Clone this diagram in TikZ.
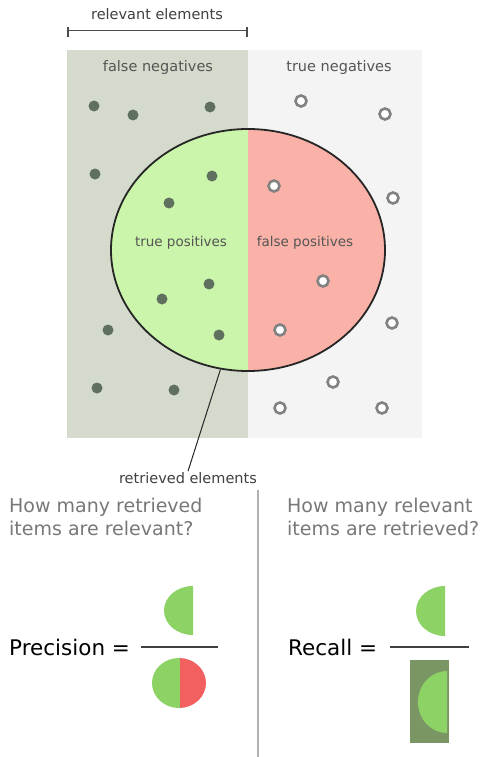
\documentclass[tikz,border=0pt]{standalone}
\usepackage{fontspec}
\setmainfont{DejaVu Sans}
\usetikzlibrary{shapes.geometric}
\definecolor{fnbg}{RGB}{212,218,204}
\definecolor{tnbg}{RGB}{244,244,244}
\definecolor{tpfill}{RGB}{202,245,170}
\definecolor{fpfill}{RGB}{250,178,168}
\definecolor{dotc}{RGB}{95,112,95}
\definecolor{ringc}{RGB}{130,130,130}
\definecolor{lblc}{RGB}{85,85,85}
\definecolor{qc}{RGB}{120,120,120}
\definecolor{bgreen}{RGB}{140,210,100}
\definecolor{bred}{RGB}{242,96,96}
\definecolor{bdark}{RGB}{122,150,100}
\tikzset{
  fulldot/.style={circle,fill=dotc,minimum size=11pt,inner sep=0pt},
  ringdot/.style={circle,draw=ringc,line width=2.6pt,fill=white,minimum size=11pt,inner sep=0pt},
  smalllbl/.style={font=\fontsize{14.5}{16}\selectfont,text=lblc,inner sep=1pt},
  insidelbl/.style={font=\fontsize{13.5}{15}\selectfont,text=lblc,inner sep=1pt},
  question/.style={font=\fontsize{19}{23}\selectfont,text=qc,align=left,anchor=north west,inner sep=0pt},
  formula/.style={font=\fontsize{21.5}{24}\selectfont,text=black,anchor=west,inner sep=0pt},
}
\begin{document}
\begin{tikzpicture}[x=1pt,y=-1pt]
\useasboundingbox[fill=white] (0,0) rectangle (495,757);
% backgrounds
\fill[fnbg] (67,50) rectangle (248,438);
\fill[tnbg] (248,50) rectangle (422,438);
% relevant elements bracket
\node[smalllbl,text=black!75] (rel) at (157,14) {relevant elements};
\coordinate (bl) at (68,30);
\coordinate (br) at (247,30);
\draw[black!70,line width=0.9pt] (bl) -- (br);
\draw[black!70,line width=1.2pt] (68,27) -- (68,37) (247,27) -- (247,37);
\node[smalllbl] (fn) at (158,68) {false negatives};
\node[smalllbl] (tn) at (339,68) {true negatives};
% retrieved ellipse
\begin{scope}
\clip (0,0) rectangle (248,757);
\fill[tpfill] (248,250) ellipse [x radius=137,y radius=121];
\end{scope}
\begin{scope}
\clip (248,0) rectangle (495,757);
\fill[fpfill] (248,250) ellipse [x radius=137,y radius=121];
\end{scope}
\node[ellipse,draw=black!85,line width=1.8pt,minimum width=274pt,minimum height=242pt,inner sep=0pt] (ret) at (248,250) {};
\node[insidelbl] (tp) at (181,243) {true positives};
\node[insidelbl] (fp) at (305,243) {false positives};
% full dots
\foreach \n/\x/\y in {d1/94/106,d2/133/115,d3/210/107,d4/95/174,d5/212/176,d6/169/203,d7/209/284,d8/162/299,d9/219/335,d10/108/330,d11/97/388,d12/174/390}
  \node[fulldot] (\n) at (\x,\y) {};
% ring dots
\foreach \n/\x/\y in {o1/301/101,o2/385/114,o3/274/186,o4/393/198,o5/323/281,o6/280/330,o7/392/323,o8/333/382,o9/280/408,o10/382/408}
  \node[ringdot] (\n) at (\x,\y) {};
% retrieved label
\node[smalllbl,text=black!75] (retlbl) at (188,478) {retrieved elements};
\draw[black!85,line width=1pt] (ret.257) -- (retlbl.north);
% divider
\coordinate (dvt) at (258,490);
\coordinate (dvb) at (258,757);
\draw[black!30,line width=2pt] (dvt) -- (dvb);
% questions
\node[question] (q1) at (9,498) {How many retrieved\\items are relevant?};
\node[question] (q2) at (287,498) {How many relevant\\items are retrieved?};
% precision
\node[formula] (prec) at (9,647) {Precision =};
\coordinate (pl1) at (141,647);
\coordinate (pl2) at (218,647);
\draw[black!75,line width=1.2pt] (pl1) -- (pl2);
\fill[bgreen] (193,586) arc[start angle=270,end angle=90,x radius=29,y radius=24.5] -- cycle;
\begin{scope}
\clip (100,600) rectangle (180,757);
\fill[bgreen] (179,683) ellipse [x radius=27,y radius=25];
\end{scope}
\begin{scope}
\clip (180,600) rectangle (260,757);
\fill[bred] (179,683) ellipse [x radius=27,y radius=25];
\end{scope}
% recall
\node[formula] (rec) at (288,647) {Recall =};
\coordinate (rl1) at (390,647);
\coordinate (rl2) at (469,647);
\draw[black!75,line width=1.2pt] (rl1) -- (rl2);
\fill[bgreen] (445,586) arc[start angle=270,end angle=90,x radius=29,y radius=25] -- cycle;
\fill[bdark] (410,660) rectangle (449,743);
\begin{scope}
\clip (410,660) rectangle (447,743);
\fill[bgreen] (447,671) arc[start angle=270,end angle=90,x radius=29,y radius=31] -- cycle;
\end{scope}
\end{tikzpicture}
\end{document}
